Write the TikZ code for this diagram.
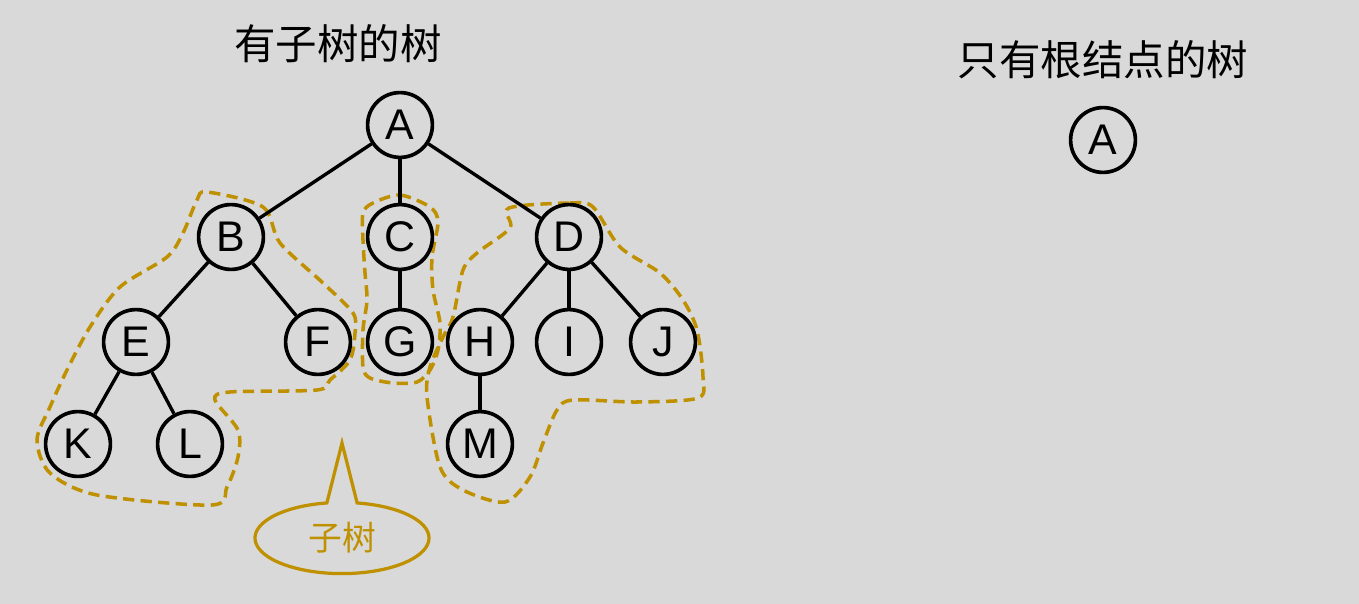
\documentclass[tikz,border=0pt]{standalone}
\usepackage{fontspec}
\setmainfont{Liberation Sans}
\newfontfamily\cjk{Noto Sans CJK SC}
\usetikzlibrary{shapes.callouts}
\definecolor{bg}{HTML}{D9D9D9}
\definecolor{gold}{HTML}{BF9000}

\begin{document}
\begin{tikzpicture}[x=0.025cm,y=-0.025cm,
  tree node/.style={circle,draw,line width=2.6pt,fill=bg,inner sep=0pt,minimum size=1.62cm,font=\fontsize{30.5}{30.5}\selectfont},
  tree edge/.style={line width=2.4pt},
  sub tree/.style={draw=gold,line width=2.5pt,dash pattern=on 8pt off 4.5pt},
  title/.style={font=\cjk\fontsize{29.5}{29.5}\selectfont}]

  \useasboundingbox (0,0) rectangle (1359,604);
  \fill[bg] (0,0) rectangle (1359,604);

  \node[title] (t1) at (338,44) {有子树的树};
  \node[title] (t2) at (1103,60) {只有根结点的树};

  % subtree outlines
  \draw[sub tree] plot[smooth cycle,tension=0.5] coordinates {(207,192) (263,207) (280,243) (323,283) (353,313) (355,333) (350,360) (330,380) (317,390) (230,392) (215,400) (238,430) (238,457) (227,487) (212,505) (97,495) (50,473) (37,440) (50,407) (67,370) (90,327) (120,287) (167,257) (183,233) (197,200)};
  \draw[sub tree] plot[smooth cycle,tension=0.5] coordinates {(373,203) (400,195) (430,207) (438,222) (432,257) (433,290) (440,323) (438,350) (430,370) (417,382) (393,383) (370,378) (363,367) (363,330) (367,300) (365,273) (363,240) (363,213)};
  \draw[sub tree] plot[smooth cycle,tension=0.5] coordinates {(509,208) (570,203) (593,207) (620,247) (660,273) (683,300) (697,330) (703,377) (698,398) (637,402) (573,400) (557,410) (543,443) (530,477) (505,502) (463,490) (440,467) (427,397) (430,367) (443,337) (453,317) (463,270) (477,253) (510,228)};

  \node[tree node] (nA) at (400,125) {A};
  \node[tree node] (nB) at (231,237) {B};
  \node[tree node] (nC) at (400,237) {C};
  \node[tree node] (nD) at (569,237) {D};
  \node[tree node] (nE) at (136,342) {E};
  \node[tree node] (nF) at (318,342) {F};
  \node[tree node] (nG) at (400,342) {G};
  \node[tree node] (nH) at (480,342) {H};
  \node[tree node] (nI) at (569,342) {I};
  \node[tree node] (nJ) at (663,342) {J};
  \node[tree node] (nK) at (78,444) {K};
  \node[tree node] (nL) at (190,444) {L};
  \node[tree node] (nM) at (480,444) {M};
  \node[tree node] (nA2) at (1103,140) {A};

  \path (nA) [-,tree edge] edge (nB);
  \path (nA) [-,tree edge] edge (nC);
  \path (nA) [-,tree edge] edge (nD);
  \path (nB) [-,tree edge] edge (nE);
  \path (nB) [-,tree edge] edge (nF);
  \path (nC) [-,tree edge] edge (nG);
  \path (nD) [-,tree edge] edge (nH);
  \path (nD) [-,tree edge] edge (nI);
  \path (nD) [-,tree edge] edge (nJ);
  \path (nE) [-,tree edge] edge (nK);
  \path (nE) [-,tree edge] edge (nL);
  \path (nH) [-,tree edge] edge (nM);

  % callout
  \node[ellipse callout,draw=gold,line width=2.3pt,inner sep=0pt,minimum width=4.35cm,minimum height=1.78cm,
        callout absolute pointer={(342,443)},callout pointer arc=20,
        text=gold,font=\cjk\fontsize{24}{24}\selectfont] (nSub) at (342,538) {子树};
\end{tikzpicture}
\end{document}
